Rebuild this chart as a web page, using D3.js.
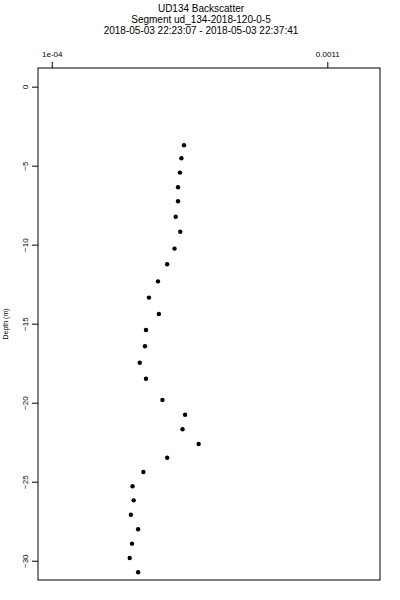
<!DOCTYPE html>
<meta charset="utf-8">
<html>
<head>
<style>
  body { margin: 0; background: #fff; }
  text { font-family: "Liberation Sans", Arial, sans-serif; fill: #000; }
</style>
<script src="https://d3js.org/d3.v7.min.js"></script>
</head>
<body>
<svg width="400" height="600"></svg>
<script>

// backscatter readings (x) against depth in metres (y)
var backscatter = [3.16e-4, 3.09e-4, 3.05e-4, 3.00e-4, 3.00e-4, 2.94e-4, 3.06e-4, 2.91e-4,
                   2.73e-4, 2.52e-4, 2.33e-4, 2.54e-4, 2.27e-4, 2.25e-4, 2.15e-4, 2.27e-4,
                   2.62e-4, 3.19e-4, 3.12e-4, 3.59e-4, 2.73e-4, 2.22e-4, 2.02e-4, 2.04e-4,
                   1.99e-4, 2.12e-4, 2.01e-4, 1.97e-4, 2.12e-4];
var depth = [-3.71, -4.53, -5.44, -6.37, -7.25, -8.23, -9.18, -10.25,
             -11.24, -12.32, -13.35, -14.39, -15.40, -16.43, -17.47, -18.48,
             -19.83, -20.76, -21.68, -22.61, -23.48, -24.39, -25.29, -26.18,
             -27.09, -28.01, -28.92, -29.83, -30.73];

var xTicks = [1e-4, 0.0011];
var xTickLabels = ["1e-04", "0.0011"];
var yTicks = [0, -5, -10, -15, -20, -25, -30];

var titles = ["UD134 Backscatter",
              "Segment ud_134-2018-120-0-5",
              "2018-05-03 22:23:07 - 2018-05-03 22:37:41"];

var svg = d3.select("svg"),
    margin = {top: 68, right: 20, bottom: 20, left: 38},
    width = 400, height = 600;

var x = d3.scaleLog()
    .domain([8.87e-5, 1.74e-3])
    .range([margin.left, width - margin.right]);

var y = d3.scaleLinear()
    .domain([1.18, -31.22])
    .range([margin.top, height - margin.bottom]);

// titles
svg.append("g")
    .selectAll("text")
    .data(titles)
    .enter().append("text")
    .attr("x", 201)
    .attr("y", function(d, i) { return 12 + i * 11; })
    .attr("text-anchor", "middle")
    .attr("font-size", 10)
    .text(function(d) { return d; });

// top axis
var xAxis = svg.append("g")
    .attr("transform", "translate(0," + margin.top + ")")
    .call(d3.axisTop(x)
        .tickValues(xTicks)
        .tickSize(6)
        .tickPadding(5)
        .tickFormat(function(d, i) { return xTickLabels[i]; }));
xAxis.selectAll("text").attr("font-size", 8).attr("font-family", null);

// left axis, labels rotated like R
var yAxis = svg.append("g")
    .attr("transform", "translate(" + margin.left + ",0)")
    .call(d3.axisLeft(y).tickValues(yTicks).tickSize(6));
yAxis.selectAll("text")
    .attr("font-size", 8)
    .attr("font-family", null)
    .attr("text-anchor", "middle")
    .attr("transform", "rotate(-90)")
    .attr("x", 0)
    .attr("y", -13)
    .attr("dy", "0.35em");
svg.selectAll(".domain").remove();

// plot frame
svg.append("rect")
    .attr("x", margin.left)
    .attr("y", margin.top)
    .attr("width", width - margin.right - margin.left)
    .attr("height", height - margin.bottom - margin.top)
    .attr("fill", "none")
    .attr("stroke", "#000")
    .attr("stroke-width", 1);

svg.append("text")
    .attr("transform", "translate(8," + ((margin.top + height - margin.bottom) / 2) + ") rotate(-90)")
    .attr("text-anchor", "middle")
    .attr("font-size", 7)
    .text("Depth (m)");

// points
svg.append("g")
    .selectAll("circle")
    .data(depth)
    .enter().append("circle")
    .attr("cx", function(d, i) { return x(backscatter[i]); })
    .attr("cy", function(d) { return y(d); })
    .attr("r", 2.2)
    .attr("fill", "#000");

</script>
</body>
</html>
